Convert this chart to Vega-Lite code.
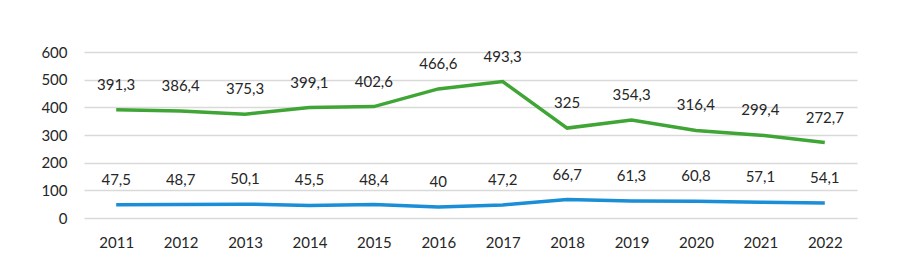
{
  "$schema": "https://vega.github.io/schema/vega-lite/v6.json",
  "width": 773,
  "height": 166,
  "autosize": {"type": "none"},
  "padding": {"left": 84, "top": 52, "right": 41, "bottom": 59},
  "background": "white",
  "config": {
    "view": {"stroke": null},
    "font": "Lato",
    "locale": {"number": {"decimal": ",", "thousands": " ", "grouping": [3], "currency": ["", ""]}}
  },
  "data": {
    "values": [
      {"year": "2011", "series": "Series 1", "value": 391.3},
      {"year": "2012", "series": "Series 1", "value": 386.4},
      {"year": "2013", "series": "Series 1", "value": 375.3},
      {"year": "2014", "series": "Series 1", "value": 399.1},
      {"year": "2015", "series": "Series 1", "value": 402.6},
      {"year": "2016", "series": "Series 1", "value": 466.6},
      {"year": "2017", "series": "Series 1", "value": 493.3},
      {"year": "2018", "series": "Series 1", "value": 325},
      {"year": "2019", "series": "Series 1", "value": 354.3},
      {"year": "2020", "series": "Series 1", "value": 316.4},
      {"year": "2021", "series": "Series 1", "value": 299.4},
      {"year": "2022", "series": "Series 1", "value": 272.7},
      {"year": "2011", "series": "Series 2", "value": 47.5},
      {"year": "2012", "series": "Series 2", "value": 48.7},
      {"year": "2013", "series": "Series 2", "value": 50.1},
      {"year": "2014", "series": "Series 2", "value": 45.5},
      {"year": "2015", "series": "Series 2", "value": 48.4},
      {"year": "2016", "series": "Series 2", "value": 40},
      {"year": "2017", "series": "Series 2", "value": 47.2},
      {"year": "2018", "series": "Series 2", "value": 66.7},
      {"year": "2019", "series": "Series 2", "value": 61.3},
      {"year": "2020", "series": "Series 2", "value": 60.8},
      {"year": "2021", "series": "Series 2", "value": 57.1},
      {"year": "2022", "series": "Series 2", "value": 54.1}
    ]
  },
  "encoding": {
    "x": {
      "field": "year", "type": "ordinal",
      "scale": {"type": "point", "padding": 0.5},
      "axis": {"title": null, "ticks": false, "domain": false, "labelAngle": 0, "labelFontSize": 15, "labelColor": "#262626", "labelPadding": 17}
    },
    "y": {
      "field": "value", "type": "quantitative",
      "scale": {"domain": [0, 600], "nice": false},
      "axis": {"title": null, "values": [0, 100, 200, 300, 400, 500, 600], "format": "d", "ticks": false, "domain": false, "labelFontSize": 15, "labelColor": "#262626", "labelPadding": 17, "gridColor": "#d9d9d9", "gridWidth": 1.5}
    },
    "color": {
      "field": "series", "type": "nominal",
      "scale": {"domain": ["Series 1", "Series 2"], "range": ["#3fa535", "#1a8ed6"]},
      "legend": null
    }
  },
  "layer": [
    {"mark": {"type": "line", "strokeWidth": 3.5}},
    {
      "mark": {"type": "text", "dy": -25, "fontSize": 15, "color": "#262626"},
      "encoding": {
        "text": {"field": "value", "type": "quantitative", "format": ".4~r"},
        "color": {"value": "#262626"}
      }
    }
  ]
}
